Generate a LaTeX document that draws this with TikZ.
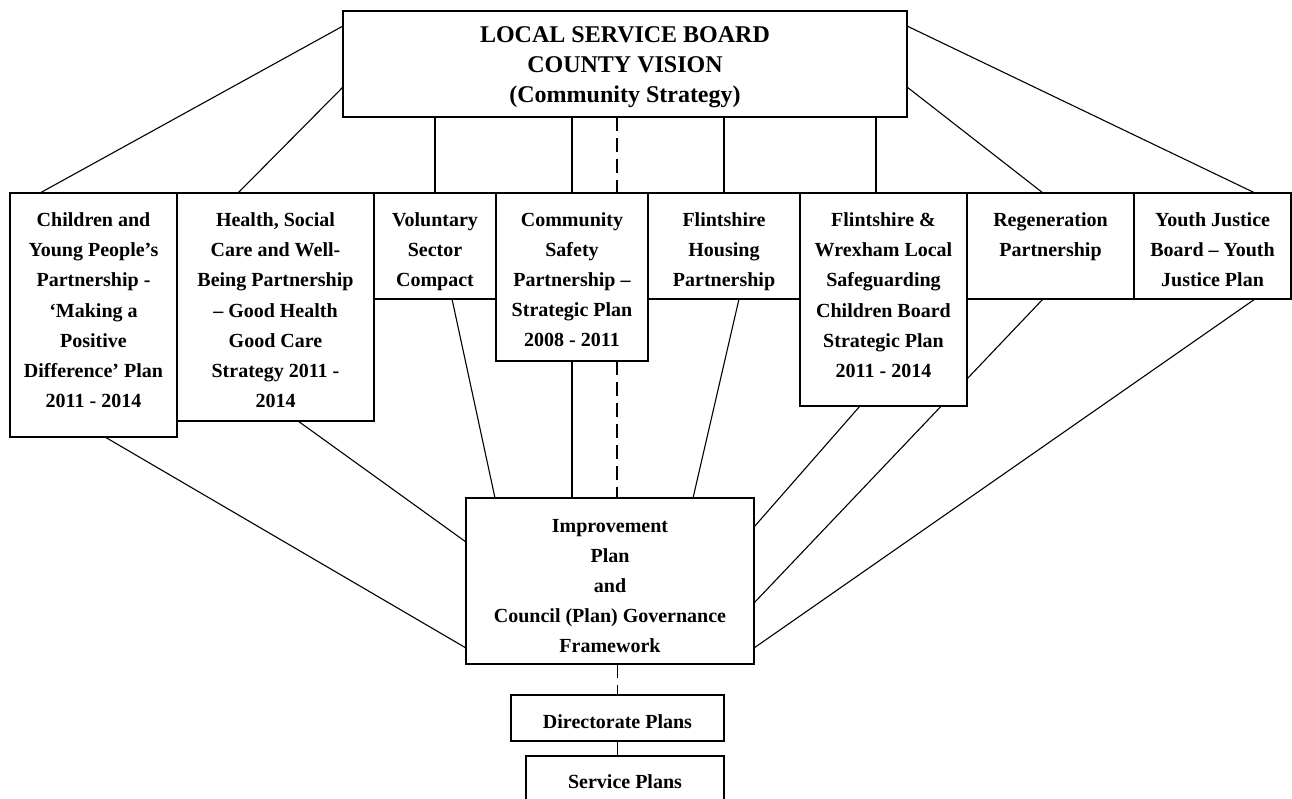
\documentclass[tikz,border=0pt]{standalone}
\usepackage{fontspec}
\setmainfont{Liberation Serif}
\usetikzlibrary{calc}
\pgfdeclarelayer{bg}
\pgfsetlayers{bg,main}
\newcommand\bxt[4]{\parbox[c][#2][t]{#1}{\centering\rule{0pt}{#3}#4\par}}
\tikzset{
  pbox/.style={draw=black, fill=white, line width=1.2pt, inner sep=0pt, outer sep=0pt,
    font=\fontsize{20}{30}\selectfont\bfseries},
  conn/.style={draw=black, line width=1.1pt},
  dconn/.style={conn, line width=1.4pt, dash pattern=on 14pt off 7pt},
}
\begin{document}
\begin{tikzpicture}[x=1pt,y=-1pt]
\useasboundingbox (0,0) rectangle (1292,799);
\clip (0,0) rectangle (1292,799);
% boxes
\node[pbox, font=\fontsize{24}{30}\selectfont\bfseries] (top) at (625,64)
  {\bxt{564pt}{106pt}{32pt}{LOCAL SERVICE BOARD\\COUNTY VISION\\(Community Strategy)}};
\node[pbox] (b1) at (93.5,315) {\bxt{167pt}{244pt}{34pt}{Children and\\Young People’s\\Partnership -\\‘Making a\\Positive\\Difference’ Plan\\2011 - 2014}};
\node[pbox] (b2) at (275.5,307) {\bxt{197pt}{228pt}{34pt}{Health, Social\\Care and Well-\\Being Partnership\\– Good Health\\Good Care\\Strategy 2011 -\\2014}};
\node[pbox] (b3) at (435,246) {\bxt{122pt}{106pt}{34pt}{Voluntary\\Sector\\Compact}};
\node[pbox] (b4) at (572,277) {\bxt{152pt}{168pt}{34pt}{Community\\Safety\\Partnership –\\Strategic Plan\\2008 - 2011}};
\node[pbox] (b5) at (724,246) {\bxt{152pt}{106pt}{34pt}{Flintshire\\Housing\\Partnership}};
\node[pbox] (b6) at (883.5,299.5) {\bxt{167pt}{213pt}{34pt}{Flintshire \&\\Wrexham Local\\Safeguarding\\Children Board\\Strategic Plan\\2011 - 2014}};
\node[pbox] (b7) at (1050.5,246) {\bxt{167pt}{106pt}{34pt}{Regeneration\\Partnership}};
\node[pbox] (b8) at (1212.5,246) {\bxt{157pt}{106pt}{34pt}{Youth Justice\\Board – Youth\\Justice Plan}};
\node[pbox] (imp) at (610,581) {\bxt{288pt}{166pt}{34pt}{Improvement\\Plan\\and\\Council (Plan) Governance\\Framework}};
\node[pbox] (dir) at (617.5,718) {\bxt{213pt}{46pt}{33pt}{Directorate Plans}};
\node[pbox] (svc) at (625,784) {\bxt{198pt}{56pt}{32pt}{Service Plans}};
% helper coordinates
\coordinate (d1) at ([xshift=45pt]b4.north);
\coordinate (d2) at ([xshift=45pt]b4.south);
\coordinate (c6) at ([xshift=-7.5pt]b6.north);
\begin{pgfonlayer}{bg}
% from top board
\draw[conn] ([yshift=-15pt]top.north west) -- ([xshift=30pt]b1.north west);
\draw[conn] ([yshift=-76pt]top.north west) -- ([xshift=61pt]b2.north west);
\draw[conn] ([yshift=-15pt]top.north east) -- ([xshift=121pt]b8.north west);
\draw[conn] ([yshift=-76pt]top.north east) -- ([xshift=76pt]b7.north west);
\draw[conn] (top.south -| b3.north) -- (b3.north);
\draw[conn] (top.south -| b4.north) -- (b4.north);
\draw[dconn] (top.south -| d1) -- (d1);
\draw[conn] (top.south -| b5.north) -- (b5.north);
\draw[conn] (top.south -| c6) -- (c6);
% to improvement plan
\draw[conn] ([xshift=95pt]b1.south west) -- ([yshift=16pt]imp.south west);
\draw[conn] ([xshift=121pt]b2.south west) -- ([yshift=-44pt]imp.north west);
\draw[conn] ([xshift=78pt]b3.south west) -- ([xshift=29pt]imp.north west);
\draw[conn] (b4.south) -- (b4.south |- imp.north);
\draw[dconn] (d2) -- (d2 |- imp.north);
\draw[conn] ([xshift=91pt]b5.south west) -- ([xshift=227pt]imp.north west);
\draw[conn] ([xshift=60pt]b6.south west) -- ([yshift=-29pt]imp.north east);
\draw[conn] ([xshift=76pt]b7.south west) -- ([yshift=61pt]imp.south east);
\draw[conn] ([xshift=121pt]b8.south west) -- ([yshift=16pt]imp.south east);
% lower chain
\draw[dconn] (imp.south -| dir.north) -- (dir.north);
\draw[conn] (dir.south) -- (dir.south |- svc.north);
\end{pgfonlayer}
\end{tikzpicture}
\end{document}
